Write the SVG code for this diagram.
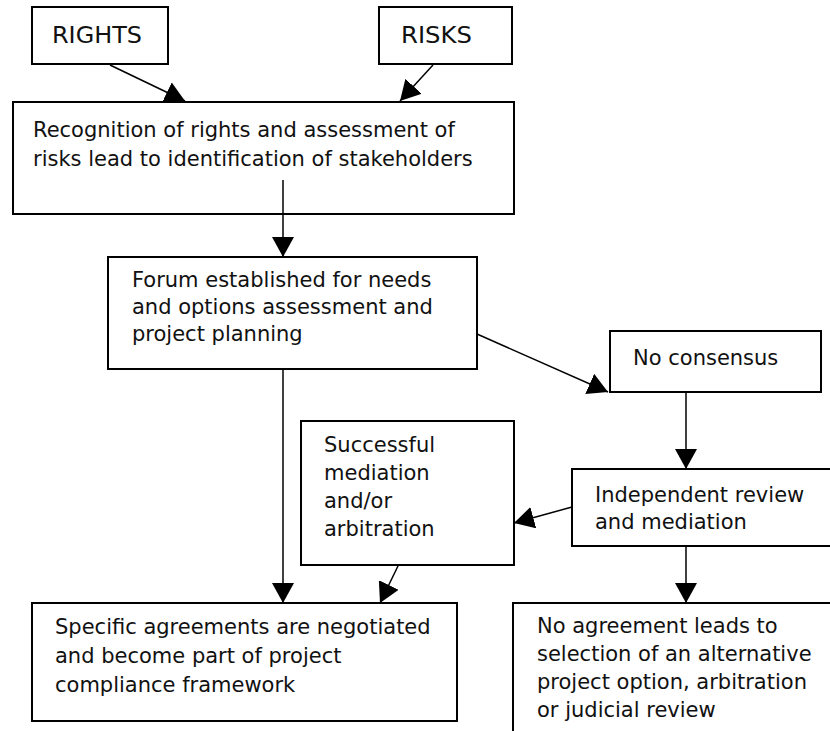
<svg xmlns="http://www.w3.org/2000/svg" width="830" height="731" viewBox="0 0 830 731">
<defs>
<style>
.box{fill:#fff;stroke:#000;stroke-width:2}
.t{font-family:"DejaVu Sans","Liberation Sans",sans-serif;font-size:21px;fill:#111}
.cap{font-size:23px}
.c{stroke:#000;stroke-width:1.5;fill:none;marker-end:url(#ah)}
</style>
<marker id="ah" markerUnits="userSpaceOnUse" markerWidth="20" markerHeight="22" viewBox="0 0 20 22" refX="20" refY="11" orient="auto">
<path d="M0,0 L20,11 L0,22 z" fill="#000"/>
</marker>
</defs>
<rect width="830" height="731" fill="#fff"/>
<g id="rights"><rect class="box" x="32" y="7" width="136" height="57"/><text class="t cap" x="52" y="43" textLength="90" lengthAdjust="spacingAndGlyphs">RIGHTS</text></g>
<g id="risks"><rect class="box" x="379" y="7" width="133" height="57"/><text class="t cap" x="401" y="43" textLength="71" lengthAdjust="spacingAndGlyphs">RISKS</text></g>
<g id="recognition"><rect class="box" x="13" y="102" width="501" height="112"/><text class="t" x="33" y="137">Recognition of rights and assessment of</text><text class="t" x="33" y="166">risks lead to identification of stakeholders</text></g>
<g id="forum"><rect class="box" x="108" y="257" width="369" height="112"/><text class="t" x="132" y="287">Forum established for needs</text><text class="t" x="132" y="314">and options assessment and</text><text class="t" x="132" y="341">project planning</text></g>
<g id="noconsensus"><rect class="box" x="610" y="331" width="211" height="61"/><text class="t" x="633" y="365">No consensus</text></g>
<g id="successful"><rect class="box" x="301" y="421" width="213" height="144"/><text class="t" x="324" y="452">Successful</text><text class="t" x="324" y="480">mediation</text><text class="t" x="324" y="508">and/or</text><text class="t" x="324" y="536">arbitration</text></g>
<g id="independent"><rect class="box" x="572" y="469" width="270" height="77"/><text class="t" x="595" y="502">Independent review</text><text class="t" x="595" y="529">and mediation</text></g>
<g id="specific"><rect class="box" x="32" y="603" width="425" height="118"/><text class="t" x="55" y="634">Specific agreements are negotiated</text><text class="t" x="55" y="663">and become part of project</text><text class="t" x="55" y="692">compliance framework</text></g>
<g id="noagreement"><rect class="box" x="513" y="603" width="330" height="140"/><text class="t" x="537" y="633">No agreement leads to</text><text class="t" x="537" y="661">selection of an alternative</text><text class="t" x="537" y="689">project option, arbitration</text><text class="t" x="537" y="717">or judicial review</text></g>
<g id="connectors">
<line class="c" x1="110" y1="65" x2="185" y2="101"/>
<line class="c" x1="433" y1="65" x2="400" y2="101"/>
<line class="c" x1="283" y1="180" x2="283" y2="257"/>
<line class="c" x1="477" y1="334" x2="608" y2="392"/>
<line class="c" x1="686" y1="392" x2="686" y2="469"/>
<line class="c" x1="572" y1="507" x2="514" y2="523"/>
<line class="c" x1="283" y1="369" x2="283" y2="603"/>
<line class="c" x1="398" y1="566" x2="380" y2="603"/>
<line class="c" x1="686" y1="546" x2="686" y2="603"/>
</g>
</svg>
